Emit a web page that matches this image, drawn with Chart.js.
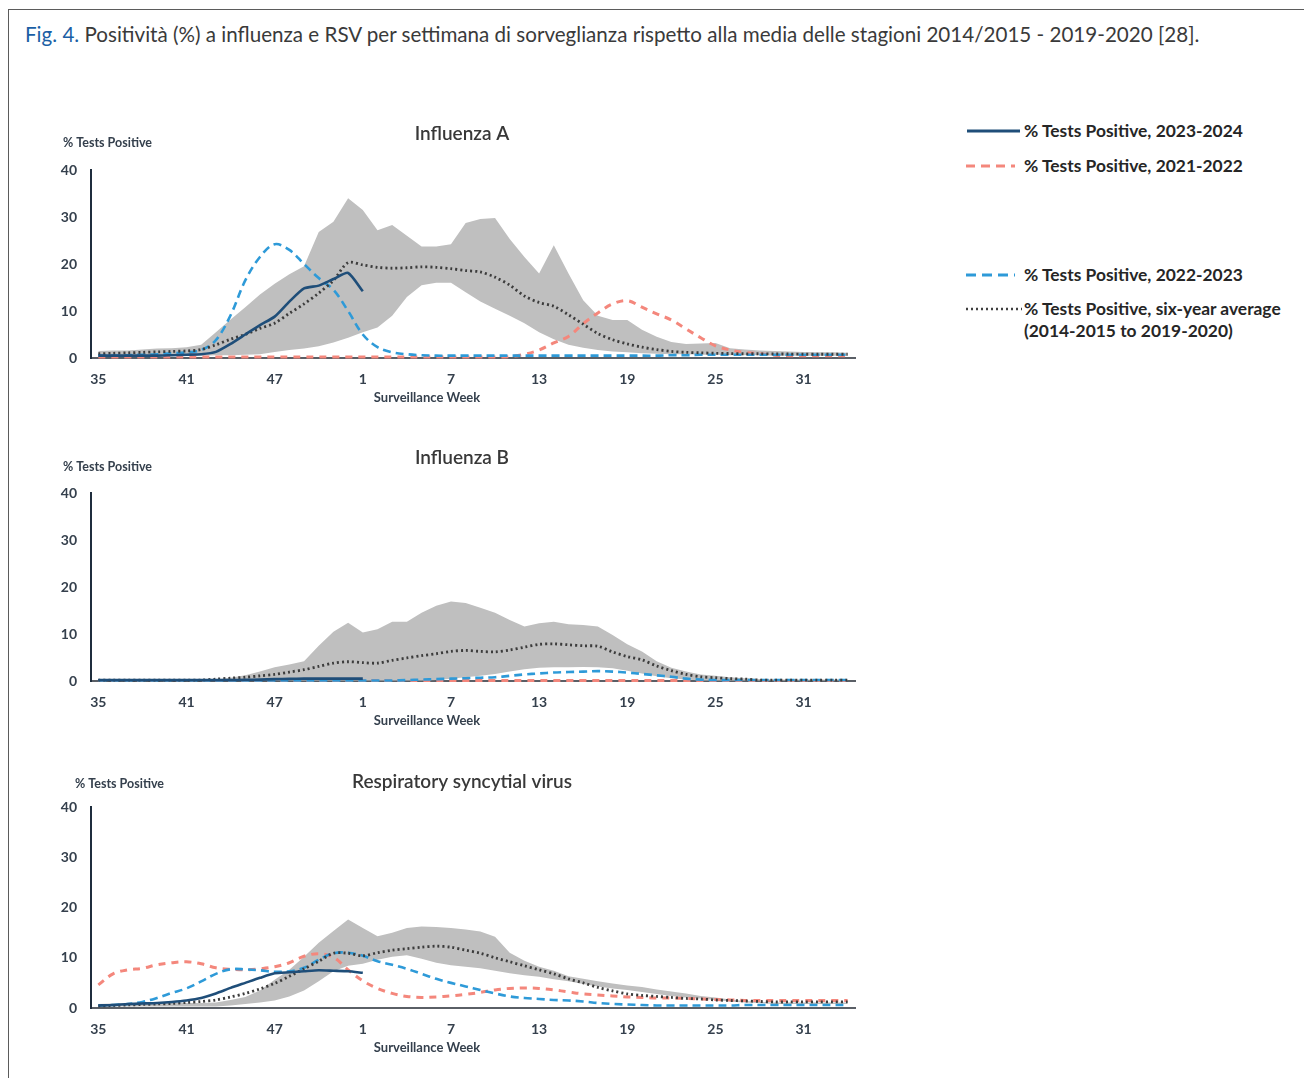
<!DOCTYPE html>
<html>
<head>
<meta charset="utf-8">
<script src="https://cdn.jsdelivr.net/npm/chart.js@4.4.0/dist/chart.umd.min.js"></script>
<style>
  html, body { margin: 0; padding: 0; background: #fff; width: 1304px; height: 1078px; overflow: hidden; }
  #frame { position: absolute; left: 8px; top: 9px; width: 1400px; height: 1200px;
           border-left: 1.5px solid #5b5b5b; border-top: 1.5px solid #5b5b5b; }
  #caption { position: absolute; left: 25px; top: 22px; font-family: Lato, sans-serif; font-size: 20.6px;
             color: #3a3a3a; white-space: nowrap; }
  #caption .fig { color: #1b5fa5; }
  canvas { position: absolute; }
  .lg-line { position: absolute; }
  .lg-text { position: absolute; font-family: Lato, sans-serif; font-weight: bold; font-size: 17.4px;
             color: #262626; white-space: nowrap; line-height: 22px; }
</style>
</head>
<body>
<div id="frame"></div>
<div id="caption"><span class="fig">Fig. 4.</span> Positività (%) a influenza e RSV per settimana di sorveglianza rispetto alla media delle stagioni 2014/2015 - 2019-2020 [28].</div>

<canvas id="fluA" width="840" height="310" style="left:40px;top:110px"></canvas>
<canvas id="fluB" width="840" height="310" style="left:40px;top:433px"></canvas>
<canvas id="rsv" width="840" height="323" style="left:40px;top:747px"></canvas>

<!-- legend -->
<svg class="lg-line" style="left:966px;top:126px" width="56" height="10"><line x1="1" y1="5" x2="54" y2="5" stroke="#1f4e79" stroke-width="3"/></svg>
<div class="lg-text" style="left:1024px;top:120px">% Tests Positive, 2023-2024</div>
<svg class="lg-line" style="left:965px;top:161px" width="56" height="10"><line x1="1" y1="5" x2="50" y2="5" stroke="#f4877c" stroke-width="3" stroke-dasharray="9,6"/></svg>
<div class="lg-text" style="left:1024px;top:155px">% Tests Positive, 2021-2022</div>
<svg class="lg-line" style="left:965px;top:270px" width="56" height="10"><line x1="1" y1="5" x2="50" y2="5" stroke="#2e9ad8" stroke-width="3" stroke-dasharray="10,6"/></svg>
<div class="lg-text" style="left:1024px;top:264px">% Tests Positive, 2022-2023</div>
<svg class="lg-line" style="left:965px;top:304px" width="60" height="10"><line x1="1" y1="5" x2="57" y2="5" stroke="#404040" stroke-width="2.5" stroke-dasharray="2,3"/></svg>
<div class="lg-text" style="left:1024px;top:298px">% Tests Positive, six-year average<br>(2014-2015 to 2019-2020)</div>

<script>
// Surveillance weeks: week 35 of one year through week 34 of the next
const weeks = [35,36,37,38,39,40,41,42,43,44,45,46,47,48,49,50,51,52,
               1,2,3,4,5,6,7,8,9,10,11,12,13,14,15,16,17,18,19,20,21,22,23,24,25,26,27,28,29,30,31,32,33,34];
const yTicks = [0, 10, 20, 30, 40];

// ---- Influenza A ----
const fluA_2324 = [0.5,0.5,0.5,0.5,0.5,0.6,0.7,0.8,1.3,3.0,5.0,7.0,8.8,12.0,14.8,15.4,16.8,18.1,14.2];
const fluA_2122 = [0.2,0.2,0.2,0.2,0.2,0.2,0.2,0.2,0.2,0.2,0.2,0.2,0.2,0.2,0.2,0.2,0.2,0.2,
                   0.2,0.2,0.2,0.2,0.2,0.2,0.2,0.2,0.2,0.2,0.3,0.8,1.7,3.2,4.6,7.3,9.6,11.5,12.2,
                   10.8,9.4,8.1,6.2,4.3,2.6,1.7,1.2,0.9,0.6,0.5,0.5,0.5,0.5,0.5];
const fluA_2223 = [0.5,0.5,0.6,0.7,0.8,1.0,1.2,1.7,3.8,9.1,16.5,21.5,24.2,23.0,20.0,17.0,14.5,10.0,5.0,
                   2.3,1.2,0.8,0.6,0.5,0.5,0.5,0.5,0.5,0.5,0.5,0.5,0.5,0.5,0.5,0.5,0.5,0.5,0.5,0.5,
                   0.6,0.6,0.7,0.7,0.7,0.7,0.7,0.7,0.7,0.7,0.7,0.7,0.7];
const fluA_avg  = [0.9,1.0,1.1,1.2,1.3,1.4,1.5,1.8,2.8,4.0,5.0,6.3,7.4,9.5,11.5,13.8,16.5,20.3,19.8,
                   19.3,19.1,19.2,19.4,19.3,19.0,18.6,18.3,17.2,15.5,13.2,11.8,11.0,9.2,7.2,5.2,3.9,3.0,
                   2.3,1.8,1.4,1.2,1.1,1.0,0.95,0.9,0.9,0.85,0.85,0.8,0.8,0.8,0.8];
const fluA_low  = [0.4,0.4,0.4,0.4,0.4,0.5,0.5,0.5,0.6,0.6,0.7,0.8,1.3,1.7,2.0,2.5,3.3,4.3,5.5,
                   6.5,9.0,13.0,15.5,16.0,16.0,14.0,12.0,10.5,9.0,7.4,5.5,4.0,2.8,2.2,1.7,1.4,1.2,
                   1.0,0.9,0.8,0.8,0.7,0.7,0.6,0.6,0.6,0.5,0.5,0.5,0.5,0.5,0.5];
const fluA_high = [1.5,1.6,1.6,1.8,2.0,2.1,2.3,2.8,5.5,8.2,10.8,13.5,15.8,17.8,19.5,26.8,29.0,34.0,31.5,
                   27.2,28.3,26.0,23.7,23.7,24.2,28.7,29.6,29.8,25.3,21.5,18.0,24.0,18.0,12.3,9.0,8.1,8.1,
                   6.0,4.5,3.4,3.0,3.1,3.2,2.1,1.8,1.6,1.5,1.4,1.3,1.2,1.2,1.1];

// ---- Influenza B ----
const fluB_2324 = [0.2,0.2,0.2,0.2,0.2,0.2,0.2,0.2,0.2,0.2,0.25,0.3,0.4,0.45,0.5,0.5,0.5,0.5,0.5];
const fluB_2122 = [0.1,0.1,0.1,0.1,0.1,0.1,0.1,0.1,0.1,0.1,0.1,0.1,0.1,0.1,0.1,0.1,0.1,0.1,
                   0.1,0.1,0.1,0.1,0.1,0.1,0.1,0.1,0.1,0.1,0.1,0.1,0.1,0.1,0.1,0.1,0.1,0.1,0.1,
                   0.1,0.1,0.1,0.1,0.1,0.1,0.1,0.1,0.1,0.1,0.1,0.1,0.1,0.1,0.1];
const fluB_2223 = [0.1,0.1,0.1,0.1,0.1,0.1,0.1,0.1,0.1,0.1,0.1,0.1,0.1,0.1,0.1,0.1,0.1,0.1,0.1,
                   0.1,0.1,0.2,0.3,0.4,0.5,0.6,0.7,0.8,1.1,1.4,1.6,1.8,1.9,2.0,2.1,2.0,1.8,
                   1.5,1.2,0.9,0.5,0.3,0.2,0.2,0.2,0.2,0.2,0.2,0.2,0.2,0.2,0.2];
const fluB_avg  = [0.2,0.2,0.2,0.2,0.2,0.2,0.2,0.2,0.4,0.6,0.8,1.1,1.4,1.9,2.4,3.1,3.8,4.1,3.9,
                   3.8,4.4,4.9,5.4,5.8,6.3,6.5,6.3,6.2,6.6,7.2,7.8,7.9,7.7,7.5,7.4,6.2,5.2,
                   4.5,3.2,2.2,1.4,0.9,0.7,0.5,0.4,0.2,0.2,0.2,0.2,0.2,0.2,0.2];
const fluB_low  = [0.1,0.1,0.1,0.1,0.1,0.1,0.1,0.1,0.1,0.1,0.1,0.1,0.1,0.1,0.1,0.1,0.1,0.1,0.1,
                   0.1,0.1,0.1,0.1,0.2,0.5,0.8,1.1,1.5,2.0,2.5,2.8,2.9,2.9,3.0,2.9,2.7,2.2,
                   1.6,1.0,0.6,0.3,0.1,0.1,0.1,0.1,0.1,0.1,0.1,0.1,0.1,0.1,0.1];
const fluB_high = [0.2,0.2,0.2,0.2,0.2,0.2,0.2,0.2,0.3,0.7,1.2,2.0,2.9,3.5,4.2,7.5,10.5,12.4,10.3,
                   11.0,12.6,12.6,14.5,16.0,16.9,16.6,15.6,14.5,13.0,11.6,12.3,12.6,12.1,11.9,11.6,9.8,7.8,
                   6.3,4.2,2.8,2.0,1.4,1.1,0.8,0.6,0.4,0.3,0.3,0.3,0.3,0.3,0.3];

// ---- Respiratory syncytial virus ----
const rsv_2324 = [0.5,0.6,0.8,0.9,1.0,1.2,1.5,2.0,2.9,4.0,5.0,6.0,6.9,7.1,7.3,7.5,7.4,7.3,7.0];
const rsv_2122 = [4.6,6.8,7.6,7.9,8.6,9.0,9.2,8.8,8.0,7.7,7.6,7.8,8.2,9.0,10.3,10.8,10.1,7.6,5.4,
                  3.9,2.9,2.3,2.1,2.2,2.4,2.7,3.1,3.6,3.9,4.0,3.9,3.6,3.2,2.8,2.6,2.4,2.2,
                  2.1,2.0,2.0,1.9,1.8,1.7,1.6,1.5,1.5,1.5,1.5,1.5,1.5,1.5,1.5];
const rsv_2223 = [0.5,0.6,0.8,1.2,2.0,3.0,3.9,5.3,6.8,7.7,7.7,7.5,7.2,7.3,8.0,9.6,10.9,11.0,10.4,
                  9.3,8.6,7.8,6.8,5.8,5.0,4.3,3.6,2.9,2.3,2.0,1.8,1.6,1.5,1.3,1.0,0.8,0.7,
                  0.6,0.5,0.5,0.5,0.5,0.5,0.5,0.6,0.6,0.6,0.6,0.6,0.6,0.6,0.6];
const rsv_avg  = [0.4,0.5,0.6,0.7,0.8,0.9,1.1,1.3,1.6,2.2,2.9,3.8,4.9,6.3,7.8,9.3,10.9,10.9,10.4,
                  11.0,11.5,11.8,12.1,12.3,12.1,11.5,10.9,10.0,9.2,8.4,7.6,6.8,5.8,5.0,4.1,3.4,2.8,
                  2.5,2.3,2.1,1.9,1.8,1.6,1.5,1.4,1.3,1.2,1.2,1.2,1.2,1.2,1.2];
const rsv_low  = [0.3,0.3,0.3,0.3,0.3,0.3,0.3,0.3,0.3,0.5,0.8,1.1,1.5,2.3,3.5,5.3,7.3,8.4,8.8,
                  9.6,10.2,10.5,9.8,9.0,8.5,8.2,7.9,7.4,6.9,6.5,6.2,5.7,5.3,4.8,4.3,3.9,3.6,
                  3.2,2.8,2.4,2.1,1.9,1.6,1.3,1.1,1.0,0.8,0.8,0.8,0.8,0.8,0.8];
const rsv_high = [0.8,0.9,0.9,1.0,1.0,1.0,1.0,1.0,1.1,1.6,2.2,3.5,5.6,7.6,10.2,13.0,15.3,17.6,15.9,
                  14.3,15.0,15.9,16.2,16.1,15.9,15.6,15.2,14.2,11.0,9.4,8.2,7.4,6.3,5.8,5.3,4.9,4.5,
                  4.2,3.7,3.3,2.9,2.4,2.1,1.7,1.4,1.2,1.1,1.1,1.1,1.1,1.1,1.1];

// Series styling
const C_2324 = '#1f4e79', C_2122 = '#f4877c', C_2223 = '#2e9ad8', C_AVG = '#3c3c3c', C_BAND = '#bfbfbf';
const FONT = 'Lato, sans-serif';
const TICK_COLOR = '#35404d';

function line(label, data, color, width, dash, order, tension) {
  return { label, data, borderColor: color, borderWidth: width, borderDash: dash,
           pointRadius: 0, pointHoverRadius: 0, fill: false, tension, order, clip: false,
           spanGaps: false, borderCapStyle: 'butt' };
}

// Panel title, horizontal y-axis caption and x-axis caption, placed relative to the plot area
const panelText = {
  id: 'panelText',
  afterDraw(chart, args, opts) {
    const ctx = chart.ctx, a = chart.chartArea;
    ctx.save();
    ctx.textBaseline = 'middle';
    ctx.fillStyle = '#383838';
    ctx.font = opts.titleFont;
    ctx.textAlign = 'center';
    ctx.fillText(opts.title, a.left + opts.titleX, a.top - opts.titleDy);
    ctx.fillStyle = TICK_COLOR;
    ctx.font = 'bold 12.5px ' + FONT;
    ctx.textAlign = 'left';
    ctx.fillText('% Tests Positive', a.left + opts.yLabelX, a.top - opts.yLabelDy);
    ctx.font = 'bold 13px ' + FONT;
    ctx.textAlign = 'center';
    ctx.fillText('Surveillance Week', a.left + 336, a.bottom + 40);
    ctx.restore();
  }
};

function makeChart(id, s, text) {
  return new Chart(document.getElementById(id), {
    type: 'line',
    data: {
      labels: weeks,
      datasets: [
        line('% Tests Positive, 2023-2024', s.cur, C_2324, 2.6, [], 0, 0.2),
        line('% Tests Positive, six-year average (2014-2015 to 2019-2020)', s.avg, C_AVG, 2.8, [2, 3], 1, 0.3),
        line('% Tests Positive, 2022-2023', s.prev, C_2223, 2.6, [8, 5], 2, 0.35),
        line('% Tests Positive, 2021-2022', s.old, C_2122, 3, [7, 6], 3, 0.35),
        { label: 'range low', data: s.low, borderWidth: 0, pointRadius: 0, fill: false, order: 4, tension: 0 },
        { label: 'range high', data: s.high, borderWidth: 0, pointRadius: 0, fill: '-1',
          backgroundColor: C_BAND, order: 5, tension: 0 }
      ]
    },
    options: {
      responsive: false,
      devicePixelRatio: 1,
      animation: false,
      events: [],
      layout: { padding: { left: 0, right: 25, top: 60, bottom: 0 } },
      plugins: {
        legend: { display: false },
        tooltip: { enabled: false },
        panelText: text
      },
      scales: {
        x: {
          type: 'category',
          offset: true,
          grid: { display: false, drawTicks: false },
          border: { display: true, color: '#5a5f66', width: 2 },
          ticks: {
            autoSkip: false, maxRotation: 0, padding: 13,
            color: TICK_COLOR, font: { family: FONT, weight: 'bold', size: 14 },
            callback: (v, i) => (i % 6 === 0 ? weeks[i] : '')
          },
          afterFit: (scale) => { scale.height = 62; }
        },
        y: {
          min: 0, max: 40,
          afterBuildTicks: (scale) => { scale.ticks = yTicks.map(v => ({ value: v })); },
          grid: { display: false, drawTicks: false },
          border: { display: true, color: '#1f2d3d', width: 2 },
          ticks: { padding: 14, color: TICK_COLOR, font: { family: FONT, weight: 'bold', size: 14 } },
          afterFit: (scale) => { scale.width = 51; }
        }
      }
    },
    plugins: [panelText]
  });
}

makeChart('fluA',
  { cur: fluA_2324, avg: fluA_avg, prev: fluA_2223, old: fluA_2122, low: fluA_low, high: fluA_high },
  { title: 'Influenza A', titleFont: '600 19px ' + FONT, titleX: 371, titleDy: 36, yLabelX: -28, yLabelDy: 27 });
makeChart('fluB',
  { cur: fluB_2324, avg: fluB_avg, prev: fluB_2223, old: fluB_2122, low: fluB_low, high: fluB_high },
  { title: 'Influenza B', titleFont: '600 19px ' + FONT, titleX: 371, titleDy: 35, yLabelX: -28, yLabelDy: 26 });
makeChart('rsv',
  { cur: rsv_2324, avg: rsv_avg, prev: rsv_2223, old: rsv_2122, low: rsv_low, high: rsv_high },
  { title: 'Respiratory syncytial virus', titleFont: '600 19px ' + FONT, titleX: 371, titleDy: 25, yLabelX: -16, yLabelDy: 23 });
</script>
</body>
</html>
